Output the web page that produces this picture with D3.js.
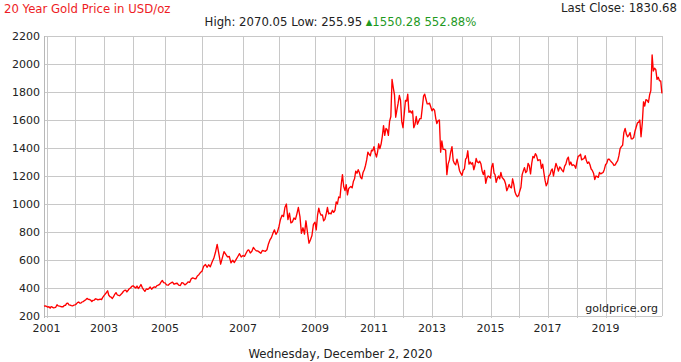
<!DOCTYPE html>
<html>
<head>
<meta charset="utf-8">
<script src="https://cdn.jsdelivr.net/npm/d3@7"></script>
<style>
  body { margin: 0; background: #fff; }
  svg text { font-family: "DejaVu Sans", Verdana, sans-serif; font-size: 11px; }
  svg text.big { font-size: 11.7px; }
</style>
</head>
<body>
<div id="chart"></div>
<script>
// semi-monthly gold prices (1st and 16th of each month), USD/oz
var p2000 = [270, 272];
var p2001 = [268, 264, 266, 256, 267, 263, 258, 260, 264, 280, 272, 271, 268, 266, 266, 275, 276, 290, 292, 280, 278, 274, 272, 277];
var p2002 = [280, 285, 296, 300, 293, 292, 301, 303, 310, 316, 326, 319, 318, 314, 303, 312, 314, 323, 320, 315, 318, 320, 317, 333];
var p2003 = [345, 356, 368, 380, 350, 338, 334, 325, 338, 355, 367, 352, 347, 345, 354, 362, 375, 383, 385, 372, 384, 396, 400, 412];
var p2004 = [416, 408, 400, 414, 396, 407, 425, 403, 388, 376, 393, 390, 396, 407, 391, 402, 408, 405, 417, 420, 426, 442, 454, 438];
var p2005 = [436, 422, 420, 430, 436, 442, 427, 432, 434, 420, 418, 438, 434, 422, 430, 444, 440, 465, 472, 468, 465, 486, 495, 510];
var p2006 = [520, 556, 568, 548, 566, 552, 585, 612, 655, 712, 640, 570, 615, 660, 640, 622, 625, 580, 598, 582, 605, 625, 645, 622];
var p2007 = [632, 626, 648, 668, 672, 650, 662, 690, 676, 665, 664, 656, 648, 668, 665, 662, 673, 715, 743, 760, 792, 815, 783, 800];
var p2008 = [840, 890, 920, 910, 975, 1000, 888, 935, 865, 872, 900, 890, 930, 975, 910, 790, 830, 785, 880, 800, 720, 745, 775, 855];
var p2009 = [870, 815, 920, 970, 940, 920, 922, 880, 890, 925, 975, 930, 935, 930, 955, 940, 955, 1015, 1000, 1050, 1045, 1140, 1210, 1125];
var p2010 = [1096, 1138, 1065, 1110, 1118, 1125, 1115, 1160, 1180, 1235, 1220, 1245, 1225, 1190, 1180, 1225, 1245, 1275, 1315, 1370, 1355, 1345, 1385, 1380];
var p2011 = [1410, 1365, 1335, 1375, 1430, 1395, 1430, 1485, 1560, 1490, 1540, 1530, 1490, 1590, 1625, 1890, 1830, 1780, 1620, 1670, 1720, 1775, 1740, 1590];
var p2012 = [1545, 1640, 1740, 1735, 1785, 1655, 1665, 1650, 1665, 1545, 1570, 1625, 1570, 1590, 1610, 1610, 1690, 1770, 1785, 1750, 1715, 1715, 1720, 1695];
var p2013 = [1665, 1680, 1670, 1610, 1575, 1595, 1600, 1370, 1450, 1390, 1390, 1385, 1210, 1285, 1315, 1370, 1410, 1310, 1290, 1280, 1320, 1285, 1240, 1220];
var p2014 = [1205, 1240, 1250, 1320, 1330, 1380, 1285, 1300, 1285, 1295, 1245, 1275, 1325, 1300, 1295, 1305, 1285, 1235, 1210, 1240, 1148, 1185, 1200, 1195];
var p2015 = [1185, 1265, 1290, 1220, 1210, 1155, 1185, 1200, 1180, 1225, 1190, 1180, 1170, 1145, 1095, 1115, 1140, 1120, 1115, 1180, 1140, 1085, 1065, 1052];
var p2016 = [1060, 1090, 1120, 1210, 1235, 1260, 1225, 1235, 1290, 1275, 1215, 1290, 1340, 1330, 1360, 1345, 1310, 1315, 1315, 1255, 1285, 1225, 1170, 1130];
var p2017 = [1150, 1200, 1210, 1240, 1250, 1200, 1250, 1290, 1265, 1235, 1265, 1255, 1240, 1230, 1270, 1285, 1320, 1335, 1280, 1300, 1275, 1280, 1275, 1255];
var p2018 = [1305, 1340, 1345, 1355, 1315, 1320, 1325, 1345, 1310, 1290, 1300, 1280, 1250, 1240, 1220, 1175, 1200, 1195, 1190, 1225, 1215, 1220, 1225, 1245];
var p2019 = [1280, 1290, 1320, 1320, 1310, 1300, 1290, 1275, 1280, 1295, 1310, 1345, 1395, 1410, 1420, 1510, 1540, 1500, 1480, 1490, 1510, 1465, 1465, 1475];
var p2020 = [1520, 1550, 1580, 1585, 1600, 1480, 1580, 1730, 1700, 1745, 1740, 1725, 1780, 1810, 2065, 1950, 1970, 1960, 1890, 1905, 1880, 1880, 1790];

var yTicks = [200, 400, 600, 800, 1000, 1200, 1400, 1600, 1800, 2000, 2200];
var gridYears = [2001, 2002, 2003, 2004, 2005, 2006, 2007, 2008, 2009, 2010, 2011, 2012, 2013, 2014, 2015, 2016, 2017, 2018, 2019, 2020];
var labelYears = [2001, 2003, 2005, 2007, 2009, 2011, 2013, 2015, 2017, 2019];

var title = "20 Year Gold Price in USD/oz",
    high = 2070.05, low = 255.95, change = 1550.28, changePct = 552.88,
    lastClose = 1830.68,
    dateText = "Wednesday, December 2, 2020";

var width = 681, height = 362;
var plotLeft = 44, plotRight = 662, plotTop = 36, plotBottom = 316;

// build the series
var series = [];
function addYear(year, vals, firstMonth) {
  vals.forEach(function(v, i) {
    var m = firstMonth + Math.floor(i / 2);
    series.push({date: new Date(year, m, i % 2 ? 16 : 1), value: v});
  });
}
addYear(2000, p2000, 11);
[p2001, p2002, p2003, p2004, p2005, p2006, p2007, p2008, p2009, p2010,
 p2011, p2012, p2013, p2014, p2015, p2016, p2017, p2018, p2019, p2020].forEach(function(vals, k) {
  addYear(2001 + k, vals, 0);
});

// the site's time axis is not uniform, so the scale is piecewise per year
var xDomain = [new Date(2000, 11, 1)].concat(gridYears.map(function(y) { return new Date(y, 0, 1); }), [new Date(2020, 11, 2)]);
var xRange = [44, 46.5, 75, 104, 133, 165, 202, 243, 279, 315, 345, 374, 403, 432, 462, 490.5, 518.5, 547.5, 577, 605.5, 635, 662];
var x = d3.scaleTime().domain(xDomain).range(xRange);
var y = d3.scaleLinear().domain([200, 2200]).range([plotBottom, plotTop]);

var svg = d3.select("#chart").append("svg")
    .attr("width", width)
    .attr("height", height);

// grid
svg.append("g").selectAll("line")
    .data(yTicks)
    .enter().append("line")
    .attr("x1", plotLeft).attr("x2", plotRight)
    .attr("y1", function(d) { return Math.round(y(d)) + 0.5; })
    .attr("y2", function(d) { return Math.round(y(d)) + 0.5; })
    .attr("stroke", "#c8c8c8");

svg.append("g").selectAll("line")
    .data(gridYears)
    .enter().append("line")
    .attr("x1", function(d) { return Math.round(x(new Date(d, 0, 1))) + 0.5; })
    .attr("x2", function(d) { return Math.round(x(new Date(d, 0, 1))) + 0.5; })
    .attr("y1", plotTop).attr("y2", plotBottom + 2)
    .attr("stroke", "#c8c8c8");

// frame
svg.append("line").attr("x1", plotLeft + 0.5).attr("x2", plotLeft + 0.5).attr("y1", plotTop).attr("y2", plotBottom + 2).attr("stroke", "#b8b8b8");
svg.append("line").attr("x1", plotRight + 0.5).attr("x2", plotRight + 0.5).attr("y1", plotTop).attr("y2", plotBottom).attr("stroke", "#c8c8c8");

// y labels
svg.append("g").selectAll("text")
    .data(yTicks)
    .enter().append("text")
    .attr("x", 40)
    .attr("y", function(d) { return y(d); })
    .attr("dy", "0.36em")
    .attr("text-anchor", "end")
    .attr("fill", "#222")
    .text(function(d) { return d; });

// x labels
svg.append("g").selectAll("text")
    .data(labelYears)
    .enter().append("text")
    .attr("x", function(d) { return x(new Date(d, 0, 1)); })
    .attr("y", 332)
    .attr("text-anchor", "middle")
    .attr("fill", "#222")
    .text(function(d) { return d; });

// price line
var line = d3.line()
    .x(function(d) { return x(d.date); })
    .y(function(d) { return y(d.value); });

svg.append("path")
    .datum(series)
    .attr("d", line)
    .attr("fill", "none")
    .attr("stroke", "#ff0000")
    .attr("stroke-width", 1.35)
    .attr("stroke-linejoin", "round");

// texts
svg.append("text").attr("class", "big").attr("x", 4).attr("y", 13).attr("fill", "#ee1c25").text(title);

svg.append("text").attr("class", "big").attr("x", 677).attr("y", 12).attr("text-anchor", "end").attr("fill", "#222")
    .text("Last Close: " + lastClose.toFixed(2));

var hdr = svg.append("text").attr("class", "big").attr("x", 340.5).attr("y", 26).attr("text-anchor", "middle").attr("fill", "#222");
hdr.append("tspan").text("High: " + high.toFixed(2) + " Low: " + low.toFixed(2) + " ");
hdr.append("tspan").attr("fill", "#1f9a1f").attr("font-size", "8.5px").attr("dy", "-1").text("\u25B2");
hdr.append("tspan").attr("fill", "#1f9a1f").attr("dy", "1").text(change.toFixed(2) + " " + changePct.toFixed(2) + "%");

svg.append("text").attr("x", 658).attr("y", 312).attr("text-anchor", "end").attr("fill", "#222").text("goldprice.org");

svg.append("text").attr("class", "big").attr("x", 340.5).attr("y", 358).attr("text-anchor", "middle").attr("fill", "#222").text(dateText);
</script>
</body>
</html>
